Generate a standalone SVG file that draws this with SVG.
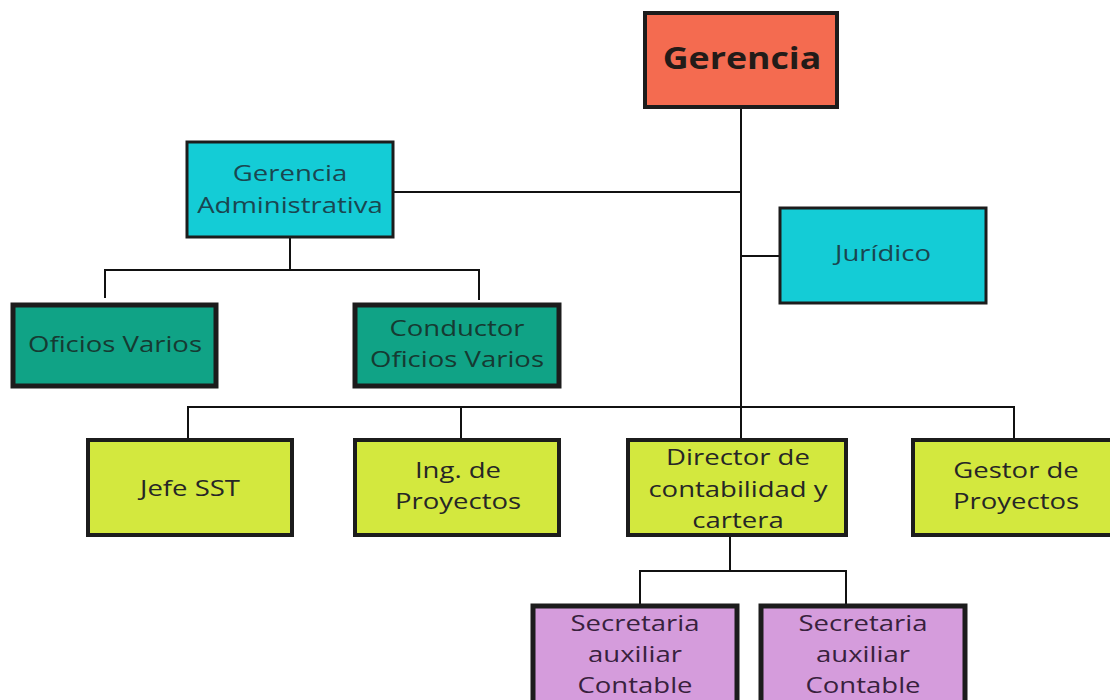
<svg xmlns="http://www.w3.org/2000/svg" width="1110" height="700" viewBox="0 0 1110 700">
  <style>
    .box { stroke: #1c1c1c; }
    .lbl { font-family: "Open Sans", "Noto Sans", "DejaVu Sans", sans-serif; font-size: 21px; text-anchor: middle; fill: #262626; }
    .top { fill: #f46b50; stroke-width: 4; }
    .cyan { fill: #14ccd6; stroke-width: 3; }
    .green { fill: #10a386; stroke-width: 5; }
    .lime { fill: #d3e83e; stroke-width: 4; }
    .violet { fill: #d59cdc; stroke-width: 5; }
    .t-cyan { fill: #1a4650; }
    .t-green { fill: #163a32; }
    .t-violet { fill: #38213d; }
    .wire { fill: none; stroke: #111; stroke-width: 2; }
  </style>
  <rect width="1110" height="700" fill="#ffffff"/>

  <!-- connectors -->
  <g id="connectors">
    <path class="wire" d="M741 108 V407"/>
    <path class="wire" d="M393 192 H741"/>
    <path class="wire" d="M741 256 H779"/>
    <path class="wire" d="M290 238 V270 M105 298 V270 H479 V300"/>
    <path class="wire" d="M188 438 V407 H1014 V438 M461 407 V438 M741 407 V438"/>
    <path class="wire" d="M730 536 V571 M640 604 V571 H846 V604"/>
  </g>

  <!-- labels use a wide set: each label group is centred on its box and stretched horizontally -->
  <g id="gerencia">
    <rect class="box top" x="645" y="13" width="192" height="94"/>
    <g transform="translate(742 0) scale(1.19 1)">
      <text class="lbl" x="0" y="69" style="font-size:30px;font-weight:bold;fill:#231b18">Gerencia</text>
    </g>
  </g>

  <g id="gerencia-administrativa">
    <rect class="box cyan" x="187" y="142" width="206" height="95"/>
    <g transform="translate(290 0) scale(1.31 1)">
      <text class="lbl t-cyan" x="0" y="181">Gerencia</text>
      <text class="lbl t-cyan" x="0" y="213">Administrativa</text>
    </g>
  </g>

  <g id="juridico">
    <rect class="box cyan" x="780" y="208" width="206" height="95"/>
    <g transform="translate(883 0) scale(1.31 1)">
      <text class="lbl t-cyan" x="0" y="261">Jurídico</text>
    </g>
  </g>

  <g id="oficios-varios">
    <rect class="box green" x="13" y="305" width="203" height="81"/>
    <g transform="translate(115 0) scale(1.31 1)">
      <text class="lbl t-green" x="0" y="352">Oficios Varios</text>
    </g>
  </g>

  <g id="conductor-oficios-varios">
    <rect class="box green" x="355" y="305" width="204" height="81"/>
    <g transform="translate(457 0) scale(1.31 1)">
      <text class="lbl t-green" x="0" y="336">Conductor</text>
      <text class="lbl t-green" x="0" y="367">Oficios Varios</text>
    </g>
  </g>

  <g id="jefe-sst">
    <rect class="box lime" x="88" y="440" width="204" height="95"/>
    <g transform="translate(190 0) scale(1.31 1)">
      <text class="lbl" x="0" y="496">Jefe SST</text>
    </g>
  </g>

  <g id="ing-proyectos">
    <rect class="box lime" x="355" y="440" width="204" height="95"/>
    <g transform="translate(458 0) scale(1.31 1)">
      <text class="lbl" x="0" y="478">Ing. de</text>
      <text class="lbl" x="0" y="509">Proyectos</text>
    </g>
  </g>

  <g id="director-contabilidad">
    <rect class="box lime" x="628" y="440" width="218" height="95"/>
    <g transform="translate(738 0) scale(1.31 1)">
      <text class="lbl" x="0" y="465">Director de</text>
      <text class="lbl" x="0" y="497">contabilidad y</text>
      <text class="lbl" x="0" y="528">cartera</text>
    </g>
  </g>

  <g id="gestor-proyectos">
    <rect class="box lime" x="913" y="440" width="206" height="95"/>
    <g transform="translate(1016 0) scale(1.31 1)">
      <text class="lbl" x="0" y="478">Gestor de</text>
      <text class="lbl" x="0" y="509">Proyectos</text>
    </g>
  </g>

  <g id="secretaria-1">
    <rect class="box violet" x="533" y="606" width="204" height="100"/>
    <g transform="translate(635 0) scale(1.31 1)">
      <text class="lbl t-violet" x="0" y="631">Secretaria</text>
      <text class="lbl t-violet" x="0" y="662">auxiliar</text>
      <text class="lbl t-violet" x="0" y="693">Contable</text>
    </g>
  </g>

  <g id="secretaria-2">
    <rect class="box violet" x="761" y="606" width="204" height="100"/>
    <g transform="translate(863 0) scale(1.31 1)">
      <text class="lbl t-violet" x="0" y="631">Secretaria</text>
      <text class="lbl t-violet" x="0" y="662">auxiliar</text>
      <text class="lbl t-violet" x="0" y="693">Contable</text>
    </g>
  </g>
</svg>
